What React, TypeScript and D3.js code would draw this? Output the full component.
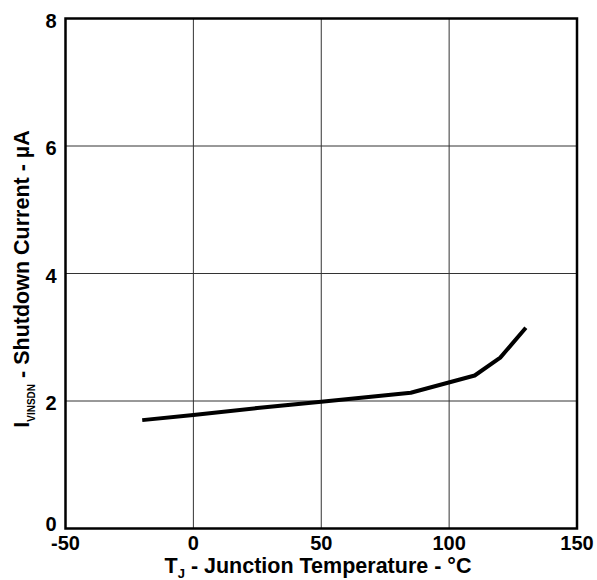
import { useEffect, useRef } from 'react';
import * as d3 from 'd3';

// junction temperature (°C) vs shutdown current (µA)
const temps = [-20, 0, 25, 50, 85, 110, 120, 130];
const currents = [1.7, 1.78, 1.89, 1.99, 2.13, 2.4, 2.68, 3.15];

const xTicks = [-50, 0, 50, 100, 150];
const yTicks = [0, 2, 4, 6, 8];

const W = 597;
const H = 580;

export default function App() {
  const svgRef = useRef<SVGSVGElement>(null);

  useEffect(() => {
    if (!svgRef.current) return;
    const svg = d3.select(svgRef.current);
    svg.selectAll('*').remove();

    const margin = { top: 18.5, right: 20, bottom: 51.5, left: 65.5 };
    const width = W - margin.left - margin.right;
    const height = H - margin.top - margin.bottom;

    const x = d3.scaleLinear().domain([-50, 150]).range([margin.left, margin.left + width]);
    const y = d3.scaleLinear().domain([0, 8]).range([margin.top + height, margin.top]);

    const font = '"Liberation Sans", Arial, sans-serif';

    // grid
    svg
      .append('g')
      .selectAll('line')
      .data(xTicks.slice(1, -1))
      .enter()
      .append('line')
      .attr('x1', (d) => x(d))
      .attr('x2', (d) => x(d))
      .attr('y1', y(0))
      .attr('y2', y(8))
      .attr('stroke', '#333')
      .attr('stroke-width', 1);

    svg
      .append('g')
      .selectAll('line')
      .data(yTicks.slice(1, -1))
      .enter()
      .append('line')
      .attr('x1', x(-50))
      .attr('x2', x(150))
      .attr('y1', (d) => y(d))
      .attr('y2', (d) => y(d))
      .attr('stroke', '#333')
      .attr('stroke-width', 1);

    // frame
    svg
      .append('rect')
      .attr('x', x(-50))
      .attr('y', y(8))
      .attr('width', width)
      .attr('height', height)
      .attr('fill', 'none')
      .attr('stroke', '#000')
      .attr('stroke-width', 2.5);

    // data line
    const pts = temps.map((t, i) => [t, currents[i]] as [number, number]);
    svg
      .append('path')
      .datum(pts)
      .attr('d', d3.line<[number, number]>().x((d) => x(d[0])).y((d) => y(d[1])))
      .attr('fill', 'none')
      .attr('stroke', '#000')
      .attr('stroke-width', 4)
      .attr('stroke-linejoin', 'round');

    // x tick labels
    svg
      .append('g')
      .selectAll('text')
      .data(xTicks)
      .enter()
      .append('text')
      .attr('x', (d) => x(d))
      .attr('y', y(0) + 21.5)
      .attr('text-anchor', 'middle')
      .attr('font-family', font)
      .attr('font-weight', 'bold')
      .attr('font-size', 20)
      .text((d) => d);

    // y tick labels
    svg
      .append('g')
      .selectAll('text')
      .data(yTicks)
      .enter()
      .append('text')
      .attr('x', margin.left - 9)
      .attr('y', (d) => y(d) + (d === 0 ? 2 : 9))
      .attr('text-anchor', 'end')
      .attr('font-family', font)
      .attr('font-weight', 'bold')
      .attr('font-size', 20)
      .text((d) => d);

    // x title
    const xt = svg
      .append('text')
      .attr('x', 318)
      .attr('y', 573)
      .attr('text-anchor', 'middle')
      .attr('font-family', font)
      .attr('font-weight', 'bold')
      .attr('font-size', 21.5);
    xt.append('tspan').text('T');
    xt.append('tspan').attr('font-size', 13).attr('dy', 5).text('J');
    xt.append('tspan').attr('dy', -5).text(' - Junction Temperature - °C');

    // y title
    const yt = svg
      .append('text')
      .attr('transform', `translate(29,279) rotate(-90)`)
      .attr('text-anchor', 'middle')
      .attr('font-family', font)
      .attr('font-weight', 'bold')
      .attr('font-size', 21.5);
    yt.append('tspan').text('I');
    yt.append('tspan').attr('font-size', 10).attr('dy', 6).text('VINSDN');
    yt.append('tspan').attr('dy', -6).text(' - Shutdown Current - µA');
  }, []);

  return (
    <svg
      ref={svgRef}
      width={W}
      height={H}
      style={{ position: 'absolute', left: 0, top: 0, background: '#fff' }}
    />
  );
}
